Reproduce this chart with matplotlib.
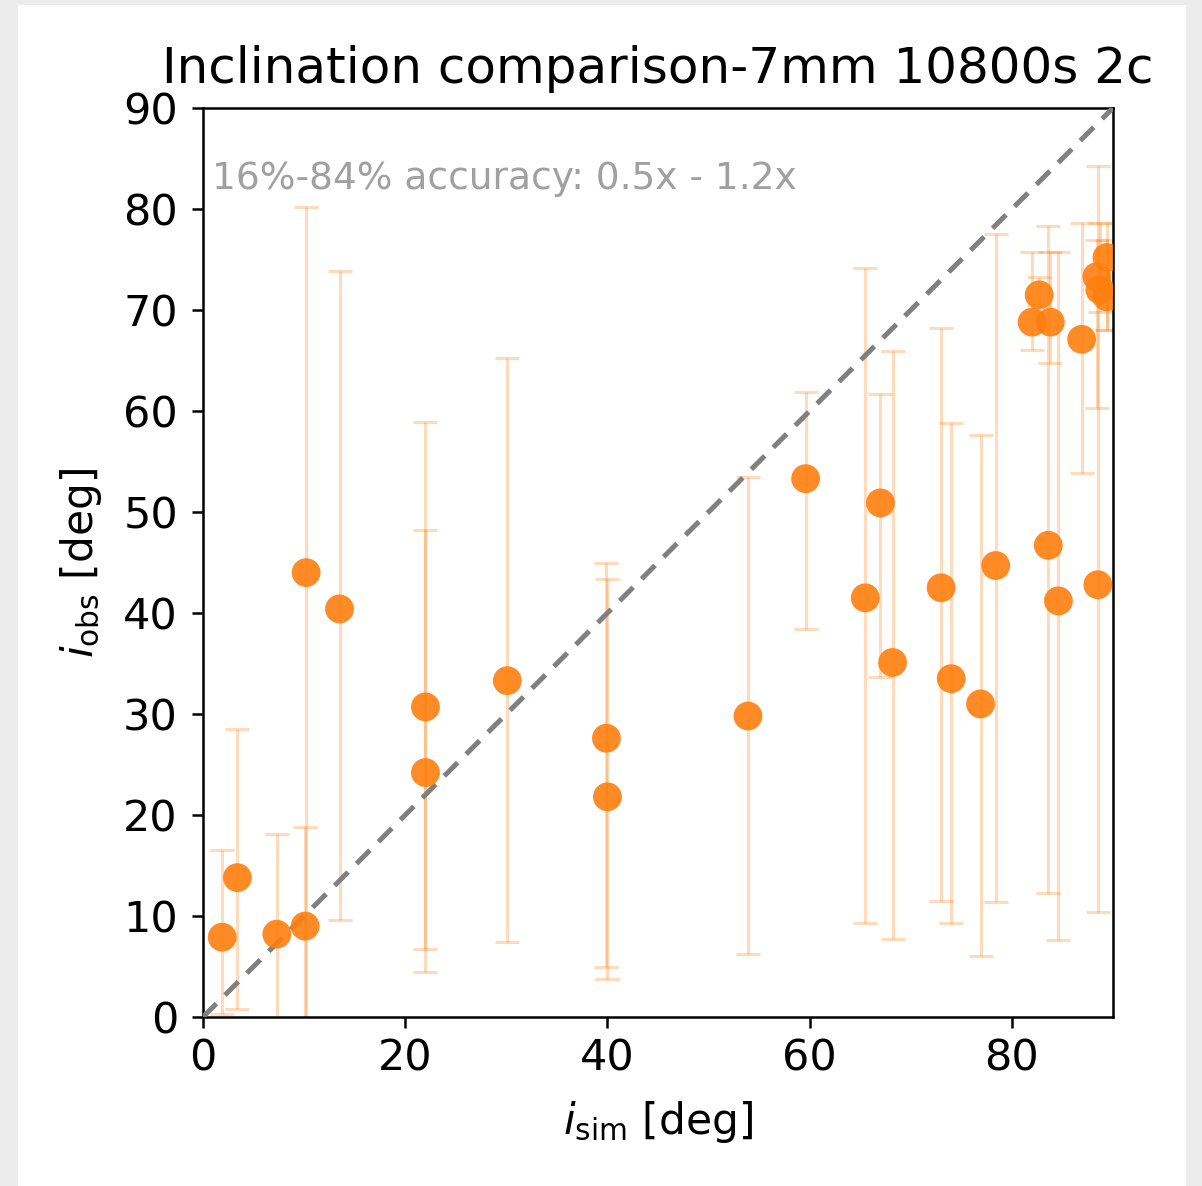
import matplotlib
matplotlib.use("Agg")
import matplotlib.pyplot as plt
from matplotlib.patches import Rectangle
import numpy as np

title = "Inclination comparison-7mm 10800s 2c"
note = "16%-84% accuracy: 0.5x - 1.2x"

x_sim = [1.9, 3.4, 7.3, 10.1, 10.2, 13.5, 22.0, 22.0, 30.1, 39.9, 40.0, 53.9,
         59.6, 65.5, 67.0, 68.2, 73.0, 74.0, 76.9, 78.4, 82.0, 82.7, 83.8,
         83.6, 84.6, 86.9, 88.5, 88.4, 88.7, 89.4, 89.4]
y_obs = [7.9, 13.8, 8.2, 9.0, 44.0, 40.4, 30.7, 24.2, 33.3, 27.6, 21.8, 29.8,
         53.3, 41.5, 50.9, 35.1, 42.5, 33.5, 31.0, 44.7, 68.8, 71.5, 68.8,
         46.7, 41.2, 67.1, 42.8, 73.3, 72.0, 75.2, 71.3]
y_low = [0.3, 0.8, -1.0, -1.0, -1.0, 9.6, 6.7, 4.5, 7.4, 5.0, 3.8, 6.2,
         38.4, 9.3, 33.7, 7.7, 11.5, 9.3, 6.0, 11.4, 66.0, 70.5, 64.8,
         12.3, 7.6, 53.9, 10.4, 60.3, 69.8, 68.0, 68.0]
y_high = [16.5, 28.5, 18.1, 18.8, 80.2, 73.9, 58.9, 48.2, 65.2, 45.0, 43.4, 53.5,
          61.9, 74.2, 61.7, 65.9, 68.2, 58.8, 57.6, 77.5, 75.7, 73.3, 75.7,
          78.3, 75.7, 78.6, 84.3, 76.9, 78.6, 78.6, 76.9]

xs = np.array(x_sim)
ys = np.array(y_obs)
err = np.vstack([ys - np.array(y_low), np.array(y_high) - ys])

plt.rcParams['font.family'] = ['DejaVu Sans']
fig = plt.figure(figsize=(12.02, 11.86), dpi=100)
fig.patch.set_facecolor('#ececec')
fig.patches.append(Rectangle((18 / 1202, 0), (1186 - 18) / 1202, 1 - 5 / 1186,
                             transform=fig.transFigure, facecolor='white',
                             edgecolor='none', zorder=-10))

ax = fig.add_axes([203 / 1202, 1 - 1017 / 1186, (1113 - 203) / 1202, (1017 - 108) / 1186])
ax.set_facecolor('white')

ax.errorbar(xs, ys, yerr=err, fmt='none', ecolor='#ff7f0e', alpha=0.28,
            elinewidth=2.2, capsize=8.5, capthick=2.2, zorder=2)
ax.plot([0, 90], [0, 90], ls='--', color='gray', lw=3.6, dashes=(3.8, 2.4), zorder=3)
ax.scatter(xs, ys, s=430, color='#ff7f0e', alpha=0.9, edgecolors='none', zorder=4)

ax.set_xlim(0, 90)
ax.set_ylim(0, 90)
ax.set_xticks([0, 20, 40, 60, 80])
ax.set_yticks(range(0, 91, 10))
ax.tick_params(labelsize=31, width=1.8, length=8, pad=7)
ax.tick_params(axis='y', pad=10)
for s in ax.spines.values():
    s.set_linewidth(1.8)

ax.text(0.01, 0.922, note, transform=ax.transAxes, color='#a0a0a0',
        fontsize=27, va='center', ha='left')
ax.set_title(title, fontsize=36, pad=18)
ax.set_xlabel(r'$i_{\rm sim}$ [deg]', fontsize=30.5, labelpad=14)
ax.set_ylabel(r'$i_{\rm obs}$ [deg]', fontsize=30.5, labelpad=14)

fig.savefig('out.png', dpi=100, facecolor=fig.get_facecolor())
